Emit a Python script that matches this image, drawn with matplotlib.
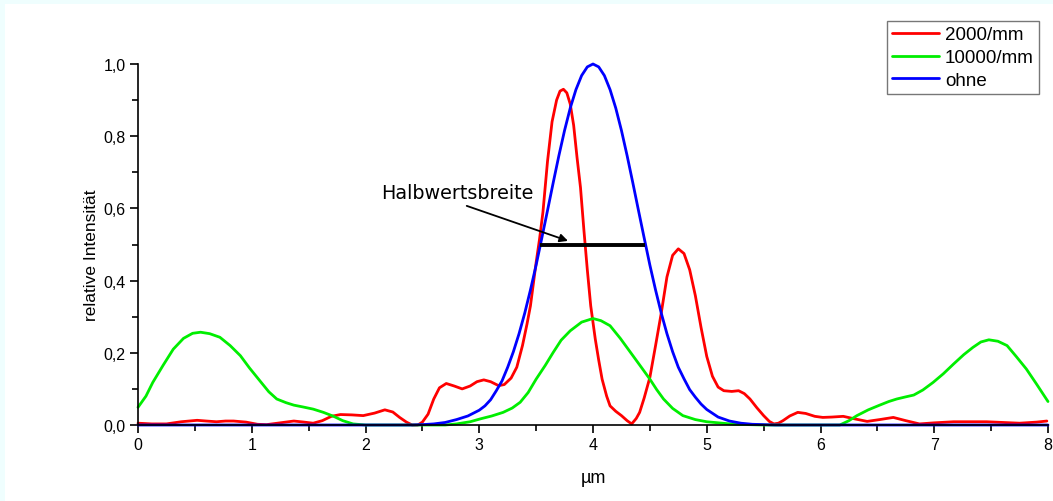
import matplotlib
matplotlib.use("Agg")
import matplotlib.pyplot as plt
from matplotlib.patches import Rectangle
from matplotlib.ticker import MultipleLocator, FuncFormatter

# ---- data ----
x_red = [0.0, 0.12, 0.25, 0.38, 0.52, 0.6, 0.69, 0.77, 0.84, 0.95, 1.05, 1.13, 1.25, 1.37, 1.46, 1.54,
         1.62, 1.7, 1.78, 1.88, 1.98, 2.08, 2.17, 2.24, 2.3, 2.36, 2.41, 2.46,
         2.5, 2.55, 2.6, 2.65, 2.71, 2.78, 2.85, 2.92, 2.98, 3.04, 3.1, 3.17, 3.22, 3.28, 3.33, 3.38, 3.42,
         3.45, 3.5, 3.53, 3.56, 3.6, 3.64, 3.68, 3.71, 3.74, 3.77, 3.8, 3.83, 3.86, 3.89, 3.92, 3.95,
         3.98, 4.02, 4.05, 4.08, 4.12, 4.15, 4.2, 4.25, 4.3, 4.34, 4.38, 4.41, 4.45,
         4.5, 4.55, 4.6, 4.65, 4.7, 4.75, 4.8, 4.85, 4.9, 4.95, 5.0, 5.05, 5.1,
         5.15, 5.22, 5.28, 5.33, 5.38, 5.44, 5.5, 5.55, 5.59, 5.63, 5.67, 5.73, 5.8, 5.87, 5.95, 6.02,
         6.1, 6.2, 6.3, 6.41, 6.52, 6.64, 6.75, 6.87, 7.0, 7.17, 7.46, 7.75, 7.9, 7.99]
y_red = [0.005, 0.003, 0.003, 0.009, 0.013, 0.011, 0.009, 0.011, 0.011, 0.008, 0.002, 0.001, 0.006, 0.011, 0.008, 0.005,
         0.012, 0.024, 0.029, 0.028, 0.026, 0.033, 0.042, 0.036, 0.021, 0.008, 0.0, 0.0,
         0.008, 0.03, 0.072, 0.103, 0.115, 0.108, 0.100, 0.108, 0.12, 0.125, 0.12, 0.109, 0.112, 0.13, 0.16, 0.22, 0.28,
         0.33, 0.45, 0.515, 0.59, 0.73, 0.84, 0.90, 0.925, 0.93, 0.92, 0.889, 0.83, 0.74, 0.658, 0.54, 0.43,
         0.33, 0.238, 0.18, 0.127, 0.08, 0.053, 0.038, 0.026, 0.012, 0.003, 0.018, 0.035, 0.075,
         0.132, 0.22, 0.31, 0.41, 0.47, 0.488, 0.475, 0.43, 0.358, 0.27, 0.19, 0.135, 0.105,
         0.095, 0.093, 0.095, 0.087, 0.072, 0.048, 0.026, 0.01, 0.003, 0.005, 0.012, 0.025, 0.035, 0.032, 0.024, 0.021,
         0.022, 0.024, 0.017, 0.010, 0.015, 0.021, 0.012, 0.003, 0.006, 0.009, 0.009, 0.005, 0.008, 0.011]

x_green = [0.0, 0.07, 0.13, 0.22, 0.31, 0.4, 0.48, 0.55, 0.63, 0.72, 0.81, 0.9, 0.98, 1.07, 1.15, 1.22, 1.3,
           1.37, 1.45, 1.54, 1.63, 1.72, 1.8, 1.89, 2.0, 2.7, 2.8, 2.92, 3.01, 3.11, 3.21, 3.29, 3.36, 3.43,
           3.5, 3.58, 3.65, 3.72, 3.8, 3.9, 4.0, 4.07, 4.15, 4.24, 4.33, 4.42, 4.5, 4.56, 4.62, 4.7, 4.79,
           4.9, 5.0, 5.24, 5.5, 6.17, 6.25, 6.32, 6.42, 6.52, 6.6, 6.67, 6.75, 6.82, 6.9, 6.99, 7.08, 7.17,
           7.26, 7.34, 7.41, 7.48, 7.56, 7.64, 7.72, 7.81, 7.9, 8.0]
y_green = [0.049, 0.08, 0.118, 0.165, 0.21, 0.24, 0.254, 0.257, 0.253, 0.243, 0.22, 0.192, 0.158, 0.123, 0.092, 0.072, 0.062,
           0.055, 0.05, 0.044, 0.035, 0.024, 0.012, 0.003, 0.0, 0.0, 0.003, 0.009, 0.017, 0.025, 0.035, 0.047, 0.063, 0.09,
           0.127, 0.165, 0.201, 0.235, 0.261, 0.285, 0.295, 0.289, 0.275, 0.24, 0.201, 0.162, 0.127, 0.098, 0.072, 0.046, 0.026,
           0.015, 0.009, 0.002, 0.0, 0.0, 0.012, 0.026, 0.042, 0.055, 0.065, 0.072, 0.078, 0.083, 0.097, 0.118, 0.142, 0.169,
           0.195, 0.215, 0.23, 0.236, 0.232, 0.22, 0.19, 0.155, 0.113, 0.065]

x_blue = [0.0, 2.4, 2.5, 2.6, 2.7, 2.8, 2.9, 3.0, 3.05, 3.1, 3.15, 3.2, 3.25, 3.3, 3.35, 3.4, 3.45, 3.5,
          3.55, 3.6, 3.65, 3.7, 3.75, 3.8, 3.85, 3.9, 3.95, 4.0, 4.05, 4.1, 4.15, 4.2, 4.25, 4.3, 4.35,
          4.4, 4.45, 4.5, 4.55, 4.6, 4.65, 4.7, 4.75, 4.8, 4.85, 4.9, 4.95, 5.0, 5.1, 5.2, 5.3, 5.4,
          5.5, 5.6, 8.0]
y_blue = [0.0, 0.0, 0.001, 0.003, 0.007, 0.015, 0.025, 0.041, 0.053, 0.07, 0.095, 0.122, 0.16, 0.203, 0.253, 0.31, 0.374, 0.443,
          0.518, 0.594, 0.671, 0.746, 0.816, 0.878, 0.929, 0.968, 0.992, 1.0, 0.992, 0.968, 0.929, 0.878, 0.816, 0.746, 0.671,
          0.594, 0.518, 0.443, 0.374, 0.31, 0.253, 0.203, 0.16, 0.128, 0.098, 0.077, 0.058, 0.043, 0.022, 0.011, 0.005, 0.002,
          0.001, 0.0, 0.0]

series_labels = ["2000/mm", "10000/mm", "ohne"]
x_ticks = [0, 1, 2, 3, 4, 5, 6, 7, 8]
y_ticks = [0.0, 0.2, 0.4, 0.6, 0.8, 1.0]
fwhm_left, fwhm_right, half_level = 3.534, 4.457, 0.5

plt.rcParams['font.family'] = ['Liberation Sans', 'DejaVu Sans']

fig = plt.figure(figsize=(10.53, 5.02), dpi=100)
fig.patch.set_facecolor('#effefe')
fig.patches.append(Rectangle((5 / 1053, 0), 1, 1 - 5 / 502, transform=fig.transFigure,
                             facecolor='white', edgecolor='none', zorder=-10))

ax = fig.add_axes([138 / 1053, 1 - 426 / 502, 910 / 1053, 361 / 502])
ax.set_facecolor('none')

lw = 2.0
kw = dict(lw=lw, clip_on=False, solid_joinstyle='round', solid_capstyle='round')
ax.plot(x_red, y_red, color='#ff0000', label=series_labels[0], **kw)
ax.plot(x_green, y_green, color='#00ee00', label=series_labels[1], **kw)
ax.plot(x_blue, y_blue, color='#0000ff', label=series_labels[2], **kw)

ax.plot([fwhm_left, fwhm_right], [half_level, half_level], color='black', lw=2.8, solid_capstyle='butt')
ax.text(2.14, 0.645, 'Halbwertsbreite', fontsize=13.8, family='DejaVu Sans', ha='left', va='center')
ax.annotate('', xy=(3.78, 0.51), xytext=(2.89, 0.607),
            arrowprops=dict(arrowstyle='-|>', color='black', lw=1.3, mutation_scale=12,
                            shrinkA=0, shrinkB=0),
            annotation_clip=False)

ax.set_xlim(0, 8)
ax.set_ylim(0, 1.0)
ax.spines['top'].set_visible(False)
ax.spines['right'].set_visible(False)
ax.spines['left'].set_linewidth(1.2)
ax.spines['bottom'].set_linewidth(1.2)
ax.set_xticks(x_ticks)
ax.set_yticks(y_ticks)
ax.xaxis.set_minor_locator(MultipleLocator(0.5))
ax.yaxis.set_minor_locator(MultipleLocator(0.1))
ax.yaxis.set_major_formatter(FuncFormatter(lambda v, p: f"{v:.1f}".replace('.', ',')))
ax.tick_params(which='major', direction='out', length=6, width=1.2, labelsize=11.5, pad=3)
ax.tick_params(which='minor', direction='out', length=4, width=1.2)

ax.set_ylabel('relative Intensität', fontsize=12.5)
ax.yaxis.set_label_coords(-0.043, 0.474)
ax.set_xlabel('µm', fontsize=13)
ax.xaxis.set_label_coords(0.5, -0.122)

leg = ax.legend(loc='upper right', bbox_to_anchor=(1039 / 1053, 1 - 22 / 502), bbox_transform=fig.transFigure,
                fontsize=13.5, frameon=True, fancybox=False, handlelength=2.5, handletextpad=0.3,
                borderpad=0.28, labelspacing=0.3, borderaxespad=0)
leg.get_frame().set_edgecolor('#555555')
leg.get_frame().set_linewidth(1.0)

fig.savefig('out.png', dpi=100, facecolor=fig.get_facecolor())
